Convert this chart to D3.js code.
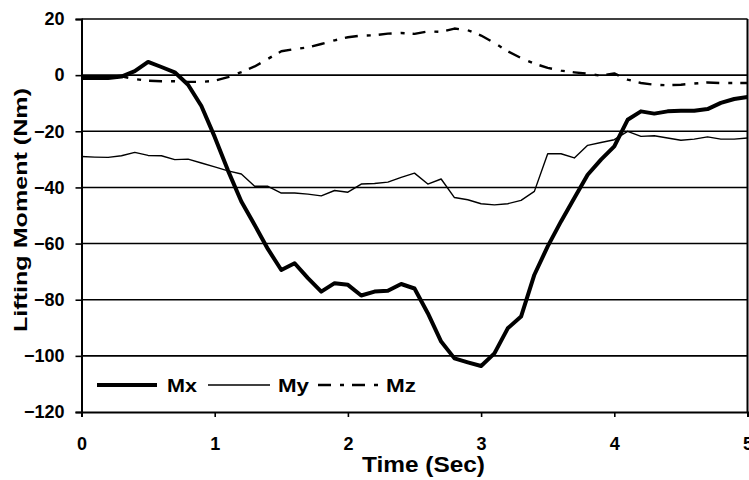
<!DOCTYPE html>
<html>
<head>
<meta charset="utf-8">
<script src="https://cdnjs.cloudflare.com/ajax/libs/d3/7.8.5/d3.min.js"></script>
<style>
  body { margin: 0; background: #fff; }
  svg { display: block; font-family: "Liberation Sans", Arial, sans-serif; font-weight: bold; }
</style>
</head>
<body>
<div id="chart"></div>
<script>
// data (Nm), one sample every 0.1 s
var time = [0, 0.1, 0.2, 0.3, 0.4, 0.5, 0.6, 0.7, 0.8, 0.9,
            1.0, 1.1, 1.2, 1.3, 1.4, 1.5, 1.6, 1.7, 1.8, 1.9,
            2.0, 2.1, 2.2, 2.3, 2.4, 2.5, 2.6, 2.7, 2.8, 2.9,
            3.0, 3.1, 3.2, 3.3, 3.4, 3.5, 3.6, 3.7, 3.8, 3.9,
            4.0, 4.1, 4.2, 4.3, 4.4, 4.5, 4.6, 4.7, 4.8, 4.9, 5.0];

var mx = [-1, -1, -1, -0.5, 1.4, 4.7, 2.9, 1.0, -3.4, -11,
          -22, -34, -45, -53.4, -62, -69.4, -67, -72.3, -77.1, -74.1,
          -74.7, -78.5, -77.1, -76.8, -74.4, -76, -84.8, -94.9, -100.9, -102.3,
          -103.6, -99.1, -90.2, -86, -71.1, -61, -52.1, -43.8, -35.5, -30.1,
          -25.4, -15.9, -12.9, -13.7, -12.9, -12.7, -12.7, -12.1, -9.9, -8.5, -7.8];

var my = [-29, -29.2, -29.3, -28.7, -27.5, -28.6, -28.7, -30.1, -29.9, -31.3,
          -32.7, -34.1, -35.2, -39.6, -39.6, -42, -42, -42.4, -43, -41.1,
          -41.7, -38.8, -38.6, -38.1, -36.4, -34.9, -38.8, -37, -43.6, -44.4,
          -45.8, -46.2, -45.8, -44.6, -41.4, -28, -28, -29.5, -25, -24,
          -23, -20, -21.8, -21.6, -22.4, -23.2, -22.8, -22, -22.8, -22.8, -22.4];

var mz = [-1, -1, -0.7, -0.4, -1.4, -2, -2.2, -2.2, -2.4, -2.4,
          -2, -0.7, 1.1, 3.1, 5.8, 8.5, 9.3, 9.9, 11.1, 12.4,
          13.5, 14.1, 14.2, 14.8, 15, 14.7, 15.6, 15.4, 16.6, 16,
          14.1, 11.5, 8.5, 6.1, 4.1, 2.6, 1.6, 1.0, 0.5, -0.2,
          0.6, -1.6, -2.8, -3.4, -3.6, -3.4, -3.0, -2.6, -2.8, -2.8, -2.8];

var xTicks = [0, 1, 2, 3, 4, 5];
var yTicks = [20, 0, -20, -40, -60, -80, -100, -120];
var seriesNames = ["Mx", "My", "Mz"];

var width = 749;
var height = 480;

var svg = d3.select("#chart").append("svg")
            .attr("width", width)
            .attr("height", height);

var x = d3.scaleLinear().domain([0, 5]).range([81.5, 747.5]);
var y = d3.scaleLinear().domain([-120, 20]).range([412, 19]);

// horizontal grid lines
svg.append("g")
  .selectAll("line")
  .data(yTicks.filter(function(d) { return d > -120; }))
  .enter().append("line")
    .attr("x1", x(0))
    .attr("x2", x(5))
    .attr("y1", function(d) { return y(d); })
    .attr("y2", function(d) { return y(d); })
    .attr("stroke", "#000")
    .attr("stroke-width", 1.6);

// right border
svg.append("line")
  .attr("x1", x(5)).attr("x2", x(5))
  .attr("y1", y(20)).attr("y2", y(-120))
  .attr("stroke", "#000")
  .attr("stroke-width", 2);

var xAxis = svg.append("g")
  .attr("transform", "translate(0," + y(-120) + ")")
  .call(d3.axisBottom(x).tickValues(xTicks).tickSize(5).tickPadding(20).tickFormat(d3.format("d")));

var yAxis = svg.append("g")
  .attr("transform", "translate(" + x(0) + ",0)")
  .call(d3.axisLeft(y).tickValues(yTicks).tickSize(6).tickPadding(11).tickFormat(d3.format("d")));

[xAxis, yAxis].forEach(function(ax) {
  ax.select(".domain").attr("stroke", "#000").attr("stroke-width", 2);
  ax.selectAll(".tick line").attr("stroke", "#000").attr("stroke-width", 1.6);
  ax.selectAll(".tick text")
    .attr("fill", "#000")
    .style("font-size", "18px")
    .style("font-weight", "bold")
    .style("font-family", "'Liberation Sans', Arial, sans-serif");
});

var styles = {
  Mx: { width: 4, dash: null },
  My: { width: 1.4, dash: null },
  Mz: { width: 2.4, dash: "13,9,4,8" }
};

var values = { Mx: mx, My: my, Mz: mz };

var line = d3.line()
  .x(function(d, i) { return x(time[i]); })
  .y(function(d) { return y(d); });

seriesNames.forEach(function(name) {
  svg.append("path")
    .datum(values[name])
    .attr("fill", "none")
    .attr("stroke", "#000")
    .attr("stroke-width", styles[name].width)
    .attr("stroke-linejoin", "round")
    .attr("stroke-dasharray", styles[name].dash)
    .attr("d", line);
});

// legend
var legendPos = [
  { name: "Mx", x1: 97, x2: 157, tx: 167, tl: 30 },
  { name: "My", x1: 208, x2: 270, tx: 278, tl: 31 },
  { name: "Mz", x1: 318, x2: 380, tx: 386, tl: 30 }
];

var legend = svg.append("g");

legend.selectAll("line")
  .data(legendPos)
  .enter().append("line")
    .attr("x1", function(d) { return d.x1; })
    .attr("x2", function(d) { return d.x2; })
    .attr("y1", 385)
    .attr("y2", 385)
    .attr("stroke", "#000")
    .attr("stroke-width", function(d) { return styles[d.name].width; })
    .attr("stroke-dasharray", function(d) { return styles[d.name].dash; });

legend.selectAll("text")
  .data(legendPos)
  .enter().append("text")
    .attr("x", function(d) { return d.tx; })
    .attr("y", 392)
    .attr("textLength", function(d) { return d.tl; })
    .attr("lengthAdjust", "spacingAndGlyphs")
    .style("font-size", "19px")
    .text(function(d) { return d.name; });

// axis titles
svg.append("text")
  .attr("x", 423.5)
  .attr("y", 472)
  .attr("text-anchor", "middle")
  .attr("textLength", 123)
  .attr("lengthAdjust", "spacingAndGlyphs")
  .style("font-size", "22px")
  .text("Time (Sec)");

svg.append("text")
  .attr("transform", "translate(27,210) rotate(-90)")
  .attr("text-anchor", "middle")
  .attr("textLength", 244)
  .attr("lengthAdjust", "spacingAndGlyphs")
  .style("font-size", "19px")
  .text("Lifting Moment (Nm)");
</script>
</body>
</html>
